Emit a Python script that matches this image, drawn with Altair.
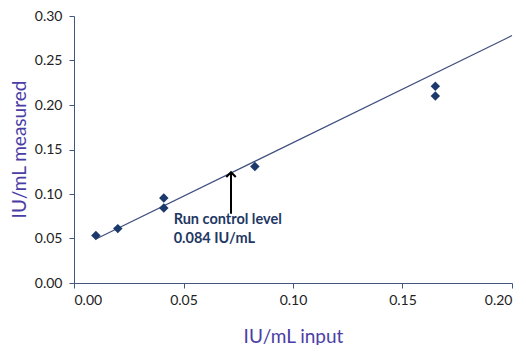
import altair as alt
import pandas as pd

# measured points
px = [0.010, 0.020, 0.041, 0.041, 0.0826, 0.165, 0.165]
py = [0.0533, 0.0611, 0.0956, 0.0844, 0.131, 0.221, 0.210]

# trend line end points
tx = [0.0105, 0.200]
ty = [0.050, 0.278]

# annotation
arrow_x = [0.0717]
arrow_y0 = [0.0778]
arrow_y1 = [0.1244]
note_x = [0.0455, 0.0455]
note_y = [0.0711, 0.0489]
note_text = ["Run control level", "0.084 IU/mL"]

pts = pd.DataFrame({"x": px, "y": py})
trend = pd.DataFrame({"x": tx, "y": ty})
arrow = pd.DataFrame({"x": arrow_x, "y0": arrow_y0, "y1": arrow_y1})
notes = pd.DataFrame({"x": note_x, "y": note_y, "t": note_text})

AXIS_COL = "#44557f"
TITLE_COL = "#4a3ea5"
FONT = "Lato"

xscale = alt.Scale(domain=[0, 0.2], nice=False, zero=True)
yscale = alt.Scale(domain=[0, 0.3], nice=False, zero=True)

xaxis = alt.Axis(
    title="IU/mL input", values=[0, 0.05, 0.10, 0.15, 0.20], format=".2f",
    grid=False, domainColor=AXIS_COL, tickColor=AXIS_COL, tickSize=5,
    labelPadding=5, labelColor="#222222", labelFont=FONT, labelFontSize=14,
    titleFont=FONT, titleFontSize=19, titleFontWeight="normal", titleColor=TITLE_COL,
    titleX=219, titleY=53, titleBaseline="middle",
)
yaxis = alt.Axis(
    title="IU/mL measured", values=[0, 0.05, 0.10, 0.15, 0.20, 0.25, 0.30], format=".2f",
    grid=False, domainColor=AXIS_COL, tickColor=AXIS_COL, tickSize=5,
    labelPadding=7, labelColor="#222222", labelFont=FONT, labelFontSize=14,
    titleFont=FONT, titleFontSize=19, titleFontWeight="normal", titleColor=TITLE_COL,
    titleX=-55, titleY=133, titleBaseline="middle",
)

line = alt.Chart(trend).mark_line(color="#3f4f7f", strokeWidth=1.2).encode(
    x=alt.X("x:Q", scale=xscale, axis=xaxis),
    y=alt.Y("y:Q", scale=yscale, axis=yaxis),
)

points = alt.Chart(pts).mark_point(
    shape="diamond", filled=True, size=90, color="#1b3a6b", opacity=1
).encode(x="x:Q", y="y:Q")

arrow_shaft = alt.Chart(arrow).mark_rule(color="#000000", strokeWidth=2).encode(
    x="x:Q", y="y0:Q", y2="y1:Q"
)
arrow_head = alt.Chart(arrow).mark_point(
    shape="M-1,1L0,0L1,1", filled=False, size=90, color="#000000",
    strokeWidth=2, opacity=1
).encode(x="x:Q", y="y1:Q")

text = alt.Chart(notes).mark_text(
    align="left", baseline="middle", font=FONT, fontSize=14.5, fontWeight="bold",
    color="#1f3864"
).encode(x="x:Q", y="y:Q", text="t:N")

chart = alt.layer(line, points, arrow_shaft, arrow_head, text).properties(
    width=438, height=267,
    autosize=alt.AutoSizeParams(type="none"),
    padding={"left": 66, "top": 8, "right": 4, "bottom": 62},
).configure_view(stroke=None)

chart.save("out.html", embed_options={"renderer": "svg", "actions": False})
